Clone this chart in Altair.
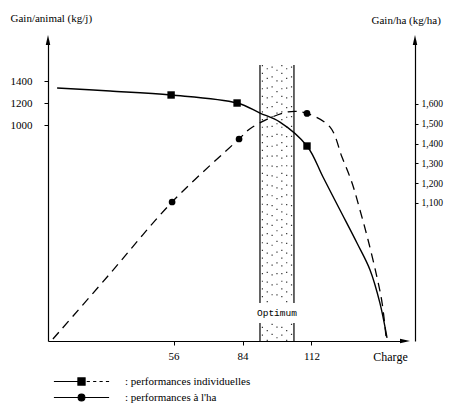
import altair as alt
import pandas as pd

# ---------------- data ----------------
charge_ticks = [56, 84, 112]
left_ticks = [1000, 1200, 1400]
right_ticks = [1100, 1200, 1300, 1400, 1500, 1600]

x_domain = [5, 150]
left_domain = [-964, 1773]
right_domain = [403, 1923]

# performances individuelles (gain/animal, left axis) - solid curve
ind_x = [8.7, 30.2, 55.0, 81.8, 91.1, 99.2, 110.2, 116.7, 123.6, 130.5, 135.8, 139.8, 142.7]
ind_y = [1336, 1309, 1273, 1200, 1109, 1027, 809, 527, 227, -73, -318, -618, -936]
sq_x = [55.0, 81.8, 110.2]
sq_y = [1273, 1200, 809]

# performances a l'ha (gain/ha, right axis) - dashed curve
ha_x = [7.0, 29.0, 55.4, 82.6, 87.5, 102.5, 110.2, 119.5, 124.4, 128.5, 131.7, 135.0, 138.6, 140.7, 142.3]
ha_y = [413, 726, 1105, 1423, 1479, 1560, 1552, 1484, 1332, 1201, 1065, 913, 726, 595, 423]
ci_x = [55.4, 82.6, 110.2]
ci_y = [1105, 1423, 1552]

# optimum band
band = [91.1, 104.9]
band_top = 1545
opt_label = "Optimum"
opt_box = [-636, -782]
opt_y = -709

series = [": performances individuelles", ": performances à l'ha"]

# ---------------- styling helpers ----------------
SERIF = "Liberation Serif"
W, H = 357, 301

common = dict(grid=False, domainColor="black", tickColor="black", labelColor="black",
              titleColor="black", domainWidth=1.2, titleFontWeight="normal",
              titleFont=SERIF, labelFont=SERIF)

ax_x = alt.Axis(values=charge_ticks, title="Charge", titleX=342, titleY=15,
                titleAlign="center", titleBaseline="middle", titleFontSize=12,
                labelFontSize=11, labelPadding=5, tickSize=4, **common)
ax_l = alt.Axis(values=left_ticks, format="d", title="Gain/animal (kg/j)", titleAngle=0,
                titleX=-38, titleY=-19, titleAlign="left", titleBaseline="alphabetic",
                titleFontSize=11, labelFontSize=11, labelPadding=12, tickSize=4, **common)
ax_r = alt.Axis(values=right_ticks, format=",d", orient="right", offset=10,
                title="Gain/ha (kg/ha)", titleAngle=0, titleX=-44, titleY=-17,
                titleAlign="left", titleBaseline="alphabetic", titleFontSize=11,
                labelFontSize=9.5, labelPadding=3, tickSize=3, **common)

xs = alt.Scale(domain=x_domain, nice=False, zero=False)
ysl = alt.Scale(domain=left_domain, nice=False, zero=False)
ysr = alt.Scale(domain=right_domain, nice=False, zero=False)


def X(field):
    return alt.X(field, type="quantitative", scale=xs, axis=ax_x)


def YL(field):
    return alt.Y(field, type="quantitative", scale=ysl, axis=ax_l)


def YR(field):
    return alt.Y(field, type="quantitative", scale=ysr, axis=ax_r)


# ---------------- tables ----------------
ind_df = pd.DataFrame({"x": ind_x, "y": ind_y})
sq_df = pd.DataFrame({"x": sq_x, "y": sq_y})
ha_df = pd.DataFrame({"x": ha_x, "y": ha_y})
ci_df = pd.DataFrame({"x": ci_x, "y": ci_y})

n_cols = 7
col_x = [band[0] + (k + 0.5) * (band[1] - band[0]) / n_cols for k in range(n_cols)]
stip_df = pd.DataFrame({"x": col_x, "y": [band_top] * n_cols,
                        "y2": [left_domain[0]] * n_cols, "k": [str(k % 4) for k in range(n_cols)]})
edge_df = pd.DataFrame({"x": band, "y": [band_top] * 2, "y2": [left_domain[0]] * 2})
box_df = pd.DataFrame({"x": [band[0]], "x2": [band[1]], "y": [opt_box[0]], "y2": [opt_box[1]],
                       "xm": [(band[0] + band[1]) / 2], "ym": [opt_y], "t": [opt_label]})
arrow_df = pd.DataFrame({"x": [x_domain[0]], "x2": [x_domain[1]],
                         "yl": [left_domain[1]], "yb": [left_domain[0]], "yr": [right_domain[1]]})
leg_df = pd.DataFrame({"s": series})

# ---------------- layers (left scale) ----------------
stipple = alt.Chart(stip_df).mark_rule(color="#333", strokeWidth=1.2).encode(
    x=X("x"), y=YL("y"), y2="y2",
    strokeDash=alt.StrokeDash("k:N", legend=None, scale=alt.Scale(
        domain=["0", "1", "2", "3"],
        range=[[1.2, 6.5], [0, 3.1, 1.2, 5.4], [0, 1.4, 1.2, 7.3], [0, 4.6, 1.2, 4.9]])))
edges = alt.Chart(edge_df).mark_rule(color="black", strokeWidth=1.2).encode(
    x=X("x"), y=YL("y"), y2="y2")
box = alt.Chart(box_df).mark_rect(fill="white", stroke="white", strokeWidth=4).encode(
    x=X("x"), x2="x2", y=YL("y"), y2="y2")
opt_text = alt.Chart(box_df).mark_text(font="Liberation Mono", fontSize=9.5, color="black").encode(
    x=X("xm"), y=YL("ym"), text="t:N")
solid = alt.Chart(ind_df).mark_line(color="black", strokeWidth=1.4, interpolate="catmull-rom").encode(
    x=X("x"), y=YL("y"))
squares = alt.Chart(sq_df).mark_point(shape="square", filled=True, color="black", size=55, opacity=1).encode(
    x=X("x"), y=YL("y"))
arrow_l = alt.Chart(arrow_df).mark_point(shape="M0,-1L0.45,1L-0.45,1Z", filled=True, color="black",
                                         size=100, opacity=1).encode(x=X("x"), y=YL("yl"))
arrow_x = alt.Chart(arrow_df).mark_point(shape="M1,0L-1,-0.45L-1,0.45Z", filled=True, color="black",
                                         size=100, opacity=1).encode(x=X("x2"), y=YL("yb"))

path_ind = ("M-6.9,0L-0.9,0M-0.9,-0.9L0.9,-0.9L0.9,0.9L-0.9,0.9Z"
            "M1.3,0L2.1,0M2.9,0L3.7,0M4.5,0L5.3,0M6.1,0L6.9,0")
path_ha = "M-6.9,0L6.9,0M-0.85,0A0.85,0.85 0 1,0 0.85,0A0.85,0.85 0 1,0 -0.85,0Z"
legend_layer = alt.Chart(leg_df).transform_filter("false").mark_point(
    filled=False, color="black", fill="black", stroke="black", strokeWidth=1.1, opacity=1).encode(
    shape=alt.Shape("s:N", scale=alt.Scale(domain=series, range=[path_ind, path_ha]),
                    legend=alt.Legend(title=None, orient="none", legendX=0, legendY=336,
                                      direction="vertical", symbolSize=64,
                                      symbolOffset=28, labelOffset=38, rowPadding=3,
                                      labelFont=SERIF, labelFontSize=11, labelColor="black",
                                      labelLimit=300, padding=0,
                                      symbolStrokeWidth=1.1, symbolOpacity=1)))

left_group = alt.layer(stipple, edges, box, opt_text, solid, squares, arrow_l, arrow_x, legend_layer)

# ---------------- layers (right scale) ----------------
dashed = alt.Chart(ha_df).mark_line(color="black", strokeWidth=1.3, strokeDash=[9, 6],
                                    interpolate="catmull-rom").encode(x=X("x"), y=YR("y"))
circles = alt.Chart(ci_df).mark_point(shape="circle", filled=True, color="black", size=45, opacity=1).encode(
    x=X("x"), y=YR("y"))
arrow_r = alt.Chart(arrow_df).mark_point(shape="M0,-1L0.45,1L-0.45,1Z", filled=True, color="black",
                                         size=100, opacity=1, xOffset=10).encode(x=X("x2"), y=YR("yr"))
right_group = alt.layer(dashed, circles, arrow_r)

chart = alt.layer(left_group, right_group).resolve_scale(
    y="independent", strokeDash="independent", shape="independent"
).properties(
    width=W, height=H,
    autosize=alt.AutoSizeParams(type="none"),
    padding={"left": 40, "top": 32, "right": 39, "bottom": 62},
    background="white",
).configure_view(strokeWidth=0)

chart.save("out.html", embed_options={"renderer": "svg", "actions": False})
